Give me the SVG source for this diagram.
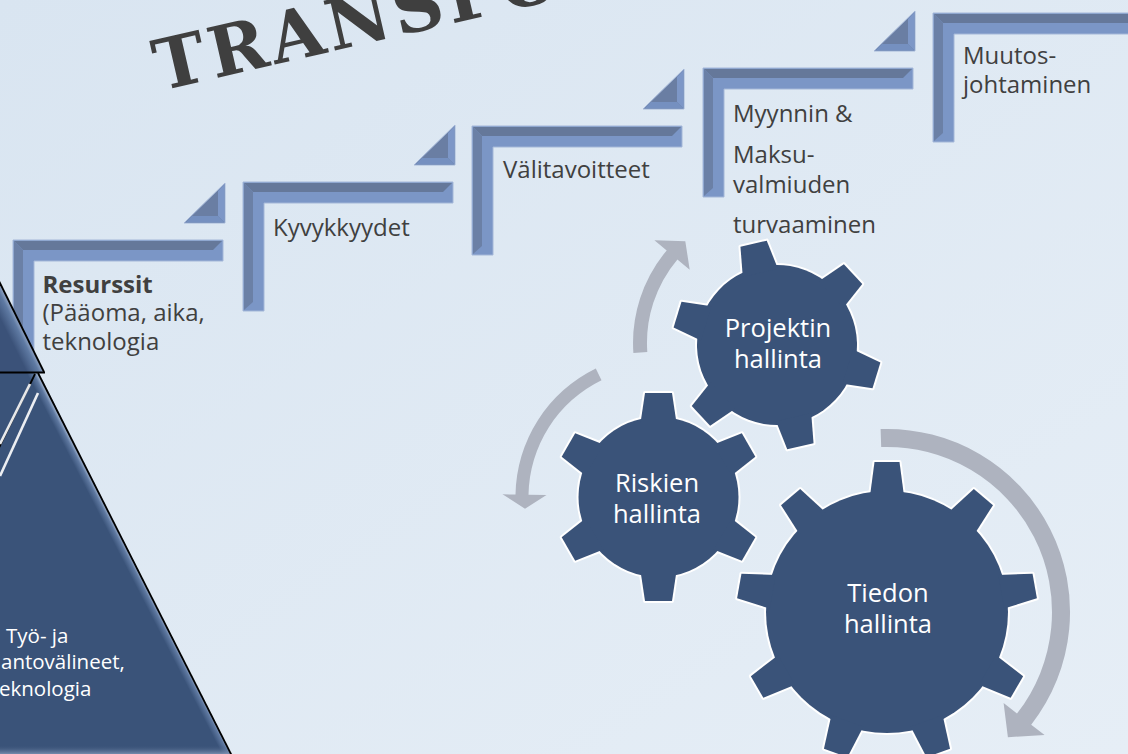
<svg xmlns="http://www.w3.org/2000/svg" width="1128" height="754" viewBox="0 0 1128 754">
<defs>
  <linearGradient id="bg" x1="0" y1="0" x2="1" y2="1">
    <stop offset="0" stop-color="#d9e5f1"/>
    <stop offset="1" stop-color="#e6eef6"/>
  </linearGradient>
  <linearGradient id="pyrUp" gradientUnits="userSpaceOnUse" x1="22" y1="327.5" x2="8" y2="334.5">
    <stop offset="0" stop-color="#93a7c6"/>
    <stop offset="0.3" stop-color="#5f7aa3"/>
    <stop offset="1" stop-color="#3b5279"/>
  </linearGradient>
  <linearGradient id="pyrLow" gradientUnits="userSpaceOnUse" x1="135" y1="564.5" x2="127" y2="568.6">
    <stop offset="0" stop-color="#9cb0cd"/>
    <stop offset="0.35" stop-color="#5e78a0"/>
    <stop offset="1" stop-color="#3a5379"/>
  </linearGradient>
  <linearGradient id="pyrBot" x1="0" y1="0" x2="0" y2="1">
    <stop offset="0" stop-color="#3a5379" stop-opacity="0"/>
    <stop offset="1" stop-color="#93a7c6"/>
  </linearGradient>
  <filter id="soft" x="-20%" y="-20%" width="140%" height="140%">
    <feGaussianBlur stdDeviation="0.7"/>
  </filter>
  <path id="toothS" d="M-18,-74L-13.5,-104H13.5L18,-74Z"/>
  <path id="toothL" d="M-17,-116L-12.5,-150H12.5L17,-116Z"/>
  <g id="stepShape">
    <path d="M0,0H210V21H21V129H0Z" fill="#7b96c6" stroke="#a4b7d8" stroke-width="1"/>
    <path d="M1,1H209L200,10H10Z" fill="#65789a"/>
    <path d="M1,1L10,10V120L1,128Z" fill="#6b80a6"/>
  </g>
  <g id="stepTri">
    <path d="M0,40L41,0V40Z" fill="#6a7ea3" stroke="#a4b7d8" stroke-width="1"/>
    <path d="M40.5,1V39.5L34,33V8Z" fill="#7d97c7"/>
    <path d="M1.5,39.5H40.5L34,33H8Z" fill="#7590c0"/>
  </g>
</defs>
<style>
  .lbl{font-family:"Open Sans","Noto Sans",sans-serif;font-size:24px;fill:#404040}
  .lblb{font-weight:bold}
  .gt{font-family:"Open Sans","Noto Sans",sans-serif;font-size:25.5px;fill:#ffffff;text-anchor:middle}
  .pt{font-family:"Open Sans","Noto Sans",sans-serif;font-size:20.5px;fill:#ffffff}
  .go{fill:#ffffff;stroke:#ffffff;stroke-width:4;stroke-linejoin:round}
  .gf{fill:#3a5379}
  .arrow{fill:#aeb3bf}
  .edge{stroke:#000000;stroke-width:1.8;fill:none}
</style>

<rect x="0" y="0" width="1128" height="754" fill="url(#bg)"/>

<g id="title">
  <text transform="translate(160,91) rotate(-13)" font-family="'DejaVu Serif',serif" font-weight="bold" font-size="70" letter-spacing="4" fill="#3f3f3f">TRANSFO</text>
</g>

<g id="step-1">
  <g transform="translate(13,240)"><use href="#stepShape"/><use href="#stepTri" x="171" y="-57"/></g>
  <text class="lbl lblb" x="42.5" y="292.5">Resurssit</text>
  <text class="lbl" x="42.5" y="321">(Pääoma, aika,</text>
  <text class="lbl" x="42.5" y="349.5">teknologia</text>
</g>
<g id="step-2">
  <g transform="translate(243,182)"><use href="#stepShape"/><use href="#stepTri" x="171" y="-57"/></g>
  <text class="lbl" x="273" y="236">Kyvykkyydet</text>
</g>
<g id="step-3">
  <g transform="translate(472,126)"><use href="#stepShape"/><use href="#stepTri" x="171" y="-57"/></g>
  <text class="lbl" x="503" y="178">Välitavoitteet</text>
</g>
<g id="step-4">
  <g transform="translate(703,68)"><use href="#stepShape"/><use href="#stepTri" x="171" y="-57"/></g>
  <text class="lbl" x="733" y="121.7">Myynnin &amp;</text>
  <text class="lbl" x="733" y="163">Maksu-</text>
  <text class="lbl" x="733" y="192.7">valmiuden</text>
  <text class="lbl" x="733" y="232.7">turvaaminen</text>
</g>
<g id="step-5">
  <g transform="translate(933,13)"><use href="#stepShape"/><use href="#stepTri" x="171" y="-57"/></g>
  <text class="lbl" x="963" y="64.3">Muutos-</text>
  <text class="lbl" x="963" y="93.3">johtaminen</text>
</g>

<g id="pyramid">
  <polygon points="-5,273 44,372 -5,372" fill="url(#pyrUp)"/>
  <polygon points="-5,373 39,373 232,756 -5,756" fill="url(#pyrLow)"/>
  <polygon points="-5,745 226.5,745 232,756 -5,756" fill="url(#pyrBot)"/>
  <line class="edge" x1="-5" y1="273" x2="44" y2="372"/>
  <line class="edge" x1="-5" y1="372.5" x2="45" y2="372.5" stroke-width="1.5"/>
  <line class="edge" x1="38" y1="373" x2="232" y2="756"/>
  <line class="edge" x1="35" y1="374" x2="-5" y2="456" stroke-width="1.3"/>
  <g filter="url(#soft)" stroke="#ffffff" stroke-width="2.6" stroke-opacity="0.9" fill="none">
    <line x1="30" y1="384" x2="0" y2="444"/>
    <line x1="38" y1="393" x2="0" y2="476"/>
  </g>
  <text class="pt" x="6" y="642.7">Työ- ja</text>
  <text class="pt" x="1" y="669">antovälineet,</text>
  <text class="pt" x="-1" y="696">eknologia</text>
</g>

<g id="connectors">
  <path class="arrow" d="M633.4,353.1 A144,144 0 0 1 666.7,250.4 L654.4,240.2 L685.3,241.2 L689.7,269.7 L677.4,259.4 A130,130 0 0 0 647.3,352.1 Z"/>
  <path class="arrow" d="M595.8,368.5 A143,143 0 0 0 515.5,494.5 L502.5,494.3 L525,508.7 L546.5,495 L528.5,494.7 A130,130 0 0 1 601.5,380.2 Z"/>
  <path class="arrow" d="M880.6,429.1 A183,183 0 0 1 1031.2,724.7 L1044.6,735.1 L1007.9,737.2 L1003.6,703.1 L1017.0,713.6 A165,165 0 0 0 881.2,447.1 Z"/>
</g>

<g id="gear-tiedon" transform="translate(887,612)">
  <g class="go">
    <circle r="121"/>
    <use href="#toothL"/><use href="#toothL" transform="rotate(40)"/><use href="#toothL" transform="rotate(80)"/>
    <use href="#toothL" transform="rotate(120)"/><use href="#toothL" transform="rotate(160)"/><use href="#toothL" transform="rotate(200)"/>
    <use href="#toothL" transform="rotate(240)"/><use href="#toothL" transform="rotate(280)"/><use href="#toothL" transform="rotate(320)"/>
  </g>
  <g class="gf">
    <circle r="121"/>
    <use href="#toothL"/><use href="#toothL" transform="rotate(40)"/><use href="#toothL" transform="rotate(80)"/>
    <use href="#toothL" transform="rotate(120)"/><use href="#toothL" transform="rotate(160)"/><use href="#toothL" transform="rotate(200)"/>
    <use href="#toothL" transform="rotate(240)"/><use href="#toothL" transform="rotate(280)"/><use href="#toothL" transform="rotate(320)"/>
  </g>
</g>
<g id="gear-riskien" transform="translate(658.5,497)">
  <g class="go">
    <circle r="80"/>
    <use href="#toothS"/><use href="#toothS" transform="rotate(60)"/><use href="#toothS" transform="rotate(120)"/>
    <use href="#toothS" transform="rotate(180)"/><use href="#toothS" transform="rotate(240)"/><use href="#toothS" transform="rotate(300)"/>
  </g>
  <g class="gf">
    <circle r="80"/>
    <use href="#toothS"/><use href="#toothS" transform="rotate(60)"/><use href="#toothS" transform="rotate(120)"/>
    <use href="#toothS" transform="rotate(180)"/><use href="#toothS" transform="rotate(240)"/><use href="#toothS" transform="rotate(300)"/>
  </g>
</g>
<g id="gear-projektin" transform="translate(777,345) rotate(-13)">
  <g class="go">
    <circle r="80"/>
    <use href="#toothS"/><use href="#toothS" transform="rotate(60)"/><use href="#toothS" transform="rotate(120)"/>
    <use href="#toothS" transform="rotate(180)"/><use href="#toothS" transform="rotate(240)"/><use href="#toothS" transform="rotate(300)"/>
  </g>
  <g class="gf">
    <circle r="80"/>
    <use href="#toothS"/><use href="#toothS" transform="rotate(60)"/><use href="#toothS" transform="rotate(120)"/>
    <use href="#toothS" transform="rotate(180)"/><use href="#toothS" transform="rotate(240)"/><use href="#toothS" transform="rotate(300)"/>
  </g>
</g>

<g id="gear-labels">
  <text class="gt" x="778" y="337">Projektin</text>
  <text class="gt" x="778" y="368">hallinta</text>
  <text class="gt" x="657" y="491.7">Riskien</text>
  <text class="gt" x="657" y="523">hallinta</text>
  <text class="gt" x="888" y="601.7">Tiedon</text>
  <text class="gt" x="888" y="633">hallinta</text>
</g>
</svg>
